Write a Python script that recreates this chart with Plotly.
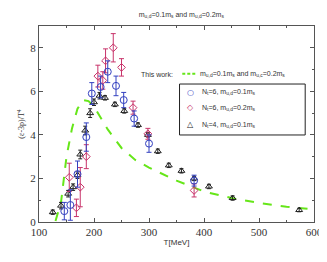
import plotly.graph_objects as go

# Nt=6, m_ud=0.1 m_s (blue circles)
blue_T = [146, 157, 170, 186, 196, 212, 225, 240, 254, 273, 300, 382]
blue_y = [0.5, 0.78, 2.2, 3.9, 5.9, 6.2, 6.9, 6.25, 5.6, 4.75, 3.6, 1.9]
blue_e = [0.4, 0.7, 0.6, 0.65, 0.5, 0.5, 0.5, 0.45, 0.35, 0.35, 0.4, 0.25]

# Nt=6, m_ud=0.2 m_s (red diamonds)
red_T = [155, 168, 175, 186, 207, 216, 221, 235, 250, 271, 298, 382]
red_y = [2.05, 0.65, 1.6, 3.0, 6.7, 6.5, 7.4, 8.0, 7.1, 5.25, 4.05, 1.45]
red_e = [0.65, 0.4, 0.9, 0.55, 0.5, 0.4, 0.55, 0.65, 0.4, 0.3, 0.25, 0.3]

# Nt=4, m_ud=0.1 m_s (black triangles)
tri_T = [125, 140, 153, 162, 170, 175, 184, 193, 200, 210, 220, 238, 255, 280, 298,
         316, 336, 359, 382, 409, 452, 573]
tri_y = [0.45, 0.75, 1.3, 1.6, 2.15, 3.1, 4.2, 5.0, 5.5, 5.8, 5.7, 5.4, 5.1, 4.45, 4.0,
         3.25, 2.6, 2.35, 2.0, 1.63, 1.1, 0.55]
tri_e = [0.1, 0.15, 0.15, 0.15, 0.15, 0.2, 0.2, 0.2, 0.15, 0.15, 0.1, 0.1, 0.1, 0.1, 0.1,
         0.1, 0.1, 0.1, 0.1, 0.1, 0.1, 0.08]

# This work curve (green dashed)
cur_T = [130, 140, 150, 160, 170, 180, 190, 200, 225, 250, 275, 300, 350, 400, 450, 500, 550, 600]
cur_y = [0.05, 0.9, 3.0, 4.3, 5.2, 5.6, 5.55, 5.3, 4.25, 3.4, 2.85, 2.5, 1.9, 1.4, 1.1, 0.88, 0.7, 0.58]

x_ticks = [100, 200, 300, 400, 500, 600]
y_ticks = [0, 2, 4, 6, 8]

TXT = "#333333"
GREEN = "#66e619"
BLUE = "#3340c0"
RED = "#c8336a"
BLACK = "#222222"

curve_name = "m<sub>u,d</sub>=0.1m<sub>s</sub> and m<sub>u,c</sub>=0.2m<sub>s</sub>"
blue_name = "N<sub>t</sub>=6, m<sub>u,d</sub>=0.1m<sub>s</sub>"
red_name = "N<sub>t</sub>=6, m<sub>u,d</sub>=0.2m<sub>s</sub>"
tri_name = "N<sub>t</sub>=4, m<sub>u,d</sub>=0.1m<sub>s</sub>"

fig = go.Figure()

fig.add_trace(go.Scatter(
    x=cur_T, y=cur_y, mode="lines", line=dict(color=GREEN, width=2, dash="dash"),
    name=curve_name))

fig.add_trace(go.Scatter(
    x=tri_T, y=tri_y, mode="markers",
    marker=dict(symbol="triangle-up-open", size=6, color=BLACK, line=dict(width=1)),
    error_y=dict(type="data", array=tri_e, color=BLACK, thickness=1, width=2),
    name=tri_name))

fig.add_trace(go.Scatter(
    x=red_T, y=red_y, mode="markers",
    marker=dict(symbol="diamond-open", size=6, color=RED, line=dict(width=1)),
    error_y=dict(type="data", array=red_e, color=RED, thickness=1, width=2.5),
    name=red_name))

fig.add_trace(go.Scatter(
    x=blue_T, y=blue_y, mode="markers",
    marker=dict(symbol="circle-open", size=7, color=BLUE, line=dict(width=1)),
    error_y=dict(type="data", array=blue_e, color=BLUE, thickness=1, width=2.5),
    name=blue_name))

axis_common = dict(showgrid=False, zeroline=False, showline=True, linecolor="#555555",
                   linewidth=1, mirror="ticks", ticks="inside", ticklen=4,
                   tickcolor="#555555",
                   tickfont=dict(family="Liberation Serif", size=11, color=TXT))

fig.update_xaxes(range=[100, 600], tickvals=x_ticks,
                 minor=dict(dtick=50, ticks="inside", ticklen=2, tickcolor="#555555"),
                 title=dict(text="T[MeV]", font=dict(family="Liberation Sans", size=8, color=TXT),
                            standoff=2),
                 **axis_common)
fig.update_yaxes(range=[0, 9], tickvals=y_ticks,
                 minor=dict(dtick=1, ticks="inside", ticklen=2, tickcolor="#555555"),
                 title=dict(text="(ε-3p)/T<sup>4</sup>",
                            font=dict(family="Liberation Serif", size=8, color=TXT),
                            standoff=4),
                 **axis_common)

legend_font = dict(family="Liberation Sans", size=7, color=TXT)

# "This work" legend line
fig.add_annotation(text="This work:", xref="paper", yref="paper",
                   x=0.364, y=0.755, xanchor="left", yanchor="middle", showarrow=False,
                   font=legend_font)
fig.add_shape(type="line", xref="paper", yref="paper", x0=0.521, x1=0.571, y0=0.757, y1=0.757,
              line=dict(color=GREEN, width=2, dash="3px,2px"))
fig.add_annotation(text=curve_name, xref="paper", yref="paper",
                   x=0.579, y=0.755, xanchor="left", yanchor="middle", showarrow=False,
                   font=legend_font)

# boxed legend
fig.add_shape(type="rect", xref="paper", yref="paper", x0=0.511, x1=0.968, y0=0.444, y1=0.704,
              line=dict(color=BLACK, width=1), fillcolor="white", layer="above")
legend_rows = [("○", BLUE, blue_name, 0.663), ("◇", RED, red_name, 0.582), ("△", BLACK, tri_name, 0.495)]
for sym, col, name, yy in legend_rows:
    fig.add_annotation(text=sym, xref="paper", yref="paper", x=0.55, y=yy,
                       xanchor="center", yanchor="middle", showarrow=False,
                       font=dict(family="DejaVu Sans", size=8, color=col))
    fig.add_annotation(text=name, xref="paper", yref="paper", x=0.586, y=yy,
                       xanchor="left", yanchor="middle", showarrow=False, font=legend_font)

fig.update_layout(
    width=327, height=262,
    margin=dict(l=31, r=16, t=18, b=48),
    paper_bgcolor="white", plot_bgcolor="white",
    title=dict(text="m<sub>u,d</sub>=0.1m<sub>s</sub> and m<sub>u,d</sub>=0.2m<sub>s</sub>",
               x=0.53, xanchor="center", y=0.985, yanchor="top",
               font=dict(family="Liberation Sans", size=7, color=TXT)),
    showlegend=False,
)

fig.write_html("out.html")
